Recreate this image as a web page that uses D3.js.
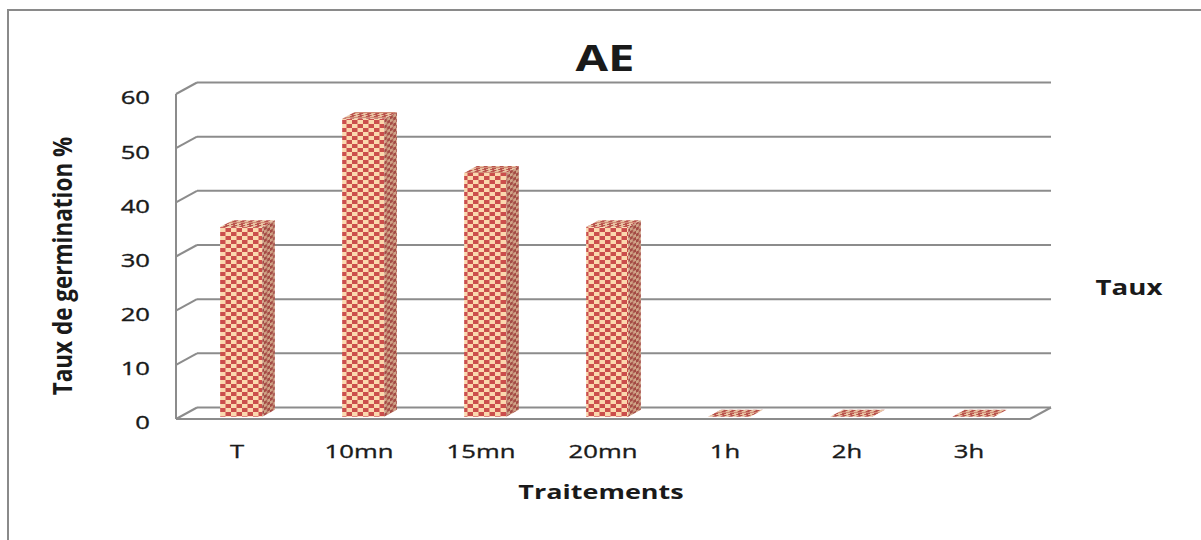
<!DOCTYPE html>
<html>
<head>
<meta charset="utf-8">
<script src="https://cdn.jsdelivr.net/npm/d3@7"></script>
<style>
  html, body { margin: 0; padding: 0; background: #fff; }
  svg { display: block; }
  text { font-family: "Open Sans", "Noto Sans", sans-serif; fill: #1a1a1a; }
</style>
</head>
<body>
<script>
// Germination rate (%) per treatment
const categories = ["T", "10mn", "15mn", "20mn", "1h", "2h", "3h"];
const taux = [35, 55, 45, 35, 0, 0, 0];
const yTicks = [0, 10, 20, 30, 40, 50, 60];

const W = 1201, H = 540;
const STRETCH = 1.35;          // wide lettering used throughout the chart
const DX = 21, DY = -11.5;     // depth offset of the 3D plot box (front -> back wall)
const F0 = 0.2, F1 = 0.8;      // depth span occupied by each column

const svg = d3.select("body").append("svg")
  .attr("width", W).attr("height", H);

const x = d3.scaleBand().domain(categories).range([176, 1030]);
const y = d3.scaleLinear().domain([0, 60]).range([419, 94]);

// ---- patterns -------------------------------------------------------
const defs = svg.append("defs");
function checker(id, cw, ch, dark, light, transform) {
  const p = defs.append("pattern")
    .attr("id", id).attr("patternUnits", "userSpaceOnUse")
    .attr("width", cw * 2).attr("height", ch * 2);
  if (transform) p.attr("patternTransform", transform);
  p.append("rect").attr("width", cw * 2).attr("height", ch * 2).attr("fill", light);
  p.append("rect").attr("width", cw).attr("height", ch).attr("fill", dark);
  p.append("rect").attr("x", cw).attr("y", ch).attr("width", cw).attr("height", ch).attr("fill", dark);
}
checker("pFront", 5.5, 4, "#cb4e4c", "#fbd8ae", null);
checker("pSide", 3, 3, "#a44b45", "#cfa387", "skewY(-28.7)");
checker("pTop", 4, 2.5, "#b9534d", "#e9c3a2", "skewX(-61)");

// ---- outer chart border --------------------------------------------
svg.append("rect")
  .attr("x", 8).attr("y", 10).attr("width", W + 20).attr("height", H + 20)
  .attr("fill", "none").attr("stroke", "#8a8a8a").attr("stroke-width", 2);

// ---- plot box: back wall gridlines, side wall, floor ----------------
const grid = svg.append("g").attr("stroke", "#8c8c8c").attr("stroke-width", 2).attr("fill", "none");
const [x0, x1] = x.range();

grid.selectAll("line.back").data(yTicks).join("line").attr("class", "back")
  .attr("x1", x0 + DX).attr("x2", x1 + DX)
  .attr("y1", d => y(d) + DY).attr("y2", d => y(d) + DY);

grid.selectAll("line.side").data(yTicks).join("line").attr("class", "side")
  .attr("x1", x0).attr("x2", x0 + DX)
  .attr("y1", d => y(d)).attr("y2", d => y(d) + DY);

grid.append("line")
  .attr("x1", x0).attr("x2", x0).attr("y1", y(0)).attr("y2", y(60));

grid.append("path")
  .attr("d", `M${x0},${y(0)} L${x1},${y(0)} L${x1 + DX},${y(0) + DY}`);

// ---- columns --------------------------------------------------------
const bw = x.bandwidth() * 0.345;
const sx = (F1 - F0) * DX, sy = (F1 - F0) * DY;
svg.append("g").selectAll("g").data(categories.map((c, i) => ({ c, v: taux[i] })))
  .join("g")
  .each(function (d) {
    const g = d3.select(this);
    const fx = x(d.c) + (x.bandwidth() - bw) / 2 + F0 * DX;
    const fb = y(0) + F0 * DY;
    const ft = y(d.v) + F0 * DY;
    if (d.v > 0) {
      // front face
      g.append("rect").attr("x", fx).attr("y", ft).attr("width", bw).attr("height", fb - ft)
        .attr("fill", "url(#pFront)");
      // right side face
      g.append("path")
        .attr("d", `M${fx + bw},${ft} L${fx + bw + sx},${ft + sy} L${fx + bw + sx},${fb + sy} L${fx + bw},${fb} Z`)
        .attr("fill", "url(#pSide)");
    }
    // top face
    g.append("path")
      .attr("d", `M${fx},${ft} L${fx + bw},${ft} L${fx + bw + sx},${ft + sy} L${fx + sx},${ft + sy} Z`)
      .attr("fill", "url(#pTop)");
  });

// ---- axes -----------------------------------------------------------
function styleTicks(sel) {
  sel.style("font-size", "19px").style("fill", "#1a1a1a")
    .style("stroke", "#1a1a1a").style("stroke-width", "0.35px")
    .style("font-family", "'Open Sans', 'Noto Sans', sans-serif");
}
const yAxis = svg.append("g")
  .attr("transform", `translate(${x0},0)`)
  .call(d3.axisLeft(y).tickValues(yTicks).tickSize(0).tickFormat(d3.format("d")));
yAxis.select(".domain").remove();
yAxis.selectAll("text")
  .attr("x", 0).attr("dy", "0.36em")
  .attr("transform", `translate(-26,3) scale(${STRETCH},1)`)
  .call(styleTicks);

const xAxis = svg.append("g")
  .attr("transform", `translate(0,${y(0)})`)
  .call(d3.axisBottom(x).tickSize(0));
xAxis.select(".domain").remove();
xAxis.selectAll("text")
  .attr("y", 0).attr("dy", 0)
  .attr("transform", `translate(0,39) scale(${STRETCH},1)`)
  .call(styleTicks);

// ---- titles ---------------------------------------------------------
function label(txt, cx, cy, size, sx, rot) {
  svg.append("text")
    .attr("transform", `translate(${cx},${cy}) scale(${sx},1)` + (rot ? ` rotate(${rot})` : ""))
    .attr("text-anchor", "middle")
    .attr("dy", "0.35em")
    .style("font-size", size + "px")
    .style("font-weight", "bold")
    .text(txt);
}
label("AE", 605, 59, 35, STRETCH);
label("Traitements", 601, 492, 20, STRETCH);
label("Taux de germination %", 63, 266, 22.5, 1.2, -90);
label("Taux", 1129, 288, 20.5, STRETCH);
</script>
</body>
</html>
